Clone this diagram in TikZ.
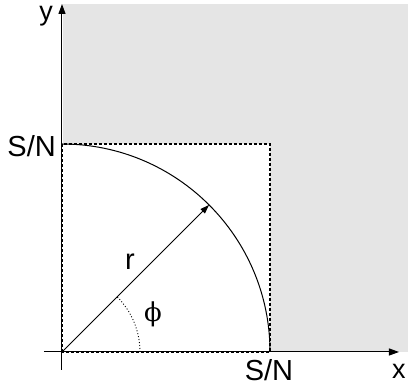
\documentclass[tikz,border=0pt]{standalone}
\usepackage{fontspec}
\setmainfont{Liberation Sans}
\newfontfamily\greekfont{DejaVu Serif}
\usetikzlibrary{arrows.meta}

\tikzset{
  axis/.style={line width=1pt, -{Triangle[length=10pt,width=7pt]}},
  guide/.style={line width=1.2pt, dash pattern=on 3pt off 2pt},
  fineguide/.style={line width=0.9pt, dash pattern=on 1pt off 2pt},
  lbl/.style={font=\fontsize{29}{32}\selectfont, inner sep=0pt},
}

\begin{document}
\begin{tikzpicture}[x=1pt, y=1pt]
\useasboundingbox (-62,-35) rectangle (346,352);

% Points
\coordinate (O) at (0,0);
\coordinate (xs) at (-18,0);
\coordinate (xe) at (337,0);
\coordinate (ys) at (0,-18);
\coordinate (ye) at (0,348);
\coordinate (top) at (0,208);
\coordinate (right) at (208,0);
\coordinate (tip) at (45:208);
\coordinate (phistart) at (78,0);

% Shaded region outside the square
\fill[gray!20] (1,0) rectangle (346,348);
\fill[white] (O) rectangle (208,208);

% Axes
\draw[axis] (xs) -- (xe);
\draw[axis] (ys) -- (ye);

% Square S/N x S/N
\draw[guide] (O) rectangle (208,208);

% Quarter circle and radius
\draw[line width=1pt] (top) arc (90:0:208);
\draw[line width=1pt, -{Triangle[length=9pt,width=6pt]}] (O) -- (tip);
\draw[fineguide] (phistart) arc (0:45:78);

% Labels
\node[lbl, anchor=base east, font=\fontsize{27}{30}\selectfont] (ylab) at (-9,331) {y};
\node[lbl, anchor=base, font=\fontsize{27}{30}\selectfont] (xlab) at (337,-27) {x};
\node[lbl, anchor=base east] (sny) at (-6,195) {S/N};
\node[lbl, anchor=base] (snx) at (207,-29) {S/N};
\node[lbl, anchor=base] (rlab) at (68,82) {r};
\node[lbl, font=\greekfont\fontsize{26}{30}\selectfont] (philab) at (91,38) {ϕ};
\end{tikzpicture}
\end{document}
